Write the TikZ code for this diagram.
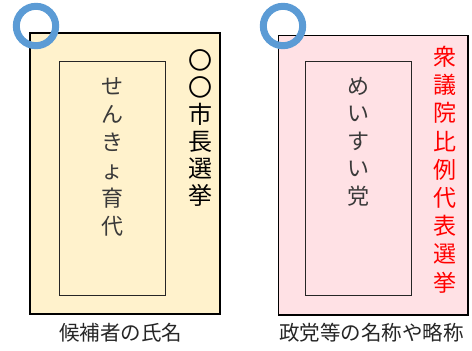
\documentclass[tikz,border=0pt]{standalone}
\usepackage{fontspec}
\newfontfamily\jpfont{Noto Sans CJK JP}
\definecolor{cardyellow}{HTML}{FFF2CC}
\definecolor{cardpink}{HTML}{FFE1E5}
\definecolor{ringblue}{HTML}{5B9BD5}
\definecolor{inkgray}{HTML}{3A3A3A}
\tikzset{
  card/.style={draw=black, line width=1.6pt, inner sep=0pt},
  namebox/.style={draw=black!85, line width=1pt, inner sep=0pt},
  ring/.style={draw=ringblue, line width=7pt},
  tate/.style={align=center, anchor=north, inner sep=0pt},
  caption/.style={font=\jpfont\fontsize{20.5}{22}\selectfont, text=black!85, inner sep=0pt}
}
\begin{document}
\begin{tikzpicture}[x=1pt, y=-1pt]
        \useasboundingbox (0,0) rectangle (472,351);

        % Left card: the candidate's name
        \node[card, fill=cardyellow, minimum width=190pt, minimum height=281pt] (mayorcard) at (125,173.5) {};
        \node[namebox, minimum width=106pt, minimum height=234pt] (mayorname) at (112,178) {};
        \draw[ring] (36,26) circle (19.7pt);
        \node[tate, font=\jpfont\fontsize{24}{27}\selectfont] (mayortitle) at (200.5,49)
          {〇\\〇\\市\\長\\選\\挙};
        \node[tate, text=inkgray, font=\jpfont\fontsize{22}{28}\selectfont] (mayorvote) at (112,77)
          {せ\\ん\\き\\ょ\\育\\代};
        \node[caption] (mayorcap) at (121,333) {候補者の氏名};

        % Right card: the party's name
        \node[card, fill=cardpink, minimum width=189.5pt, minimum height=279.5pt] (partycard) at (373.25,175.25) {};
        \node[namebox, minimum width=106pt, minimum height=234pt] (partyname) at (358,178) {};
        \draw[ring] (283,26) circle (19.7pt);
        \node[tate, text=red, font=\jpfont\fontsize{23}{28.2}\selectfont] (partytitle) at (445,46)
          {衆\\議\\院\\比\\例\\代\\表\\選\\挙};
        \node[tate, text=inkgray, font=\jpfont\fontsize{22}{27.5}\selectfont] (partyvote) at (358,77)
          {め\\い\\す\\い\\党};
        \node[caption] (partycap) at (371.5,333) {政党等の名称や略称};

    \end{tikzpicture}
\end{document}
